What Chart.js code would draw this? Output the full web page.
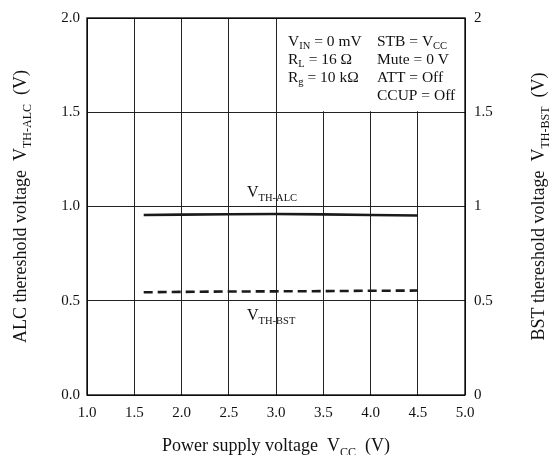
<!DOCTYPE html>
<html>
<head>
<meta charset="utf-8">
<script src="https://cdn.jsdelivr.net/npm/chart.js@4"></script>
<style>
html,body{margin:0;padding:0;background:#fff;}
#wrap{width:552px;height:455px;}
</style>
</head>
<body>
<div id="wrap"><canvas id="c" width="552" height="455"></canvas></div>
<script>
// ---- data ----
const vcc = [1.6, 2.0, 2.5, 3.0, 3.5, 4.0, 4.5];
const vthAlc = [0.955, 0.957, 0.959, 0.960, 0.958, 0.955, 0.952];
const vthBst = [0.545, 0.547, 0.549, 0.550, 0.551, 0.553, 0.554];
const xTicks = [1.0, 1.5, 2.0, 2.5, 3.0, 3.5, 4.0, 4.5, 5.0];
const yLeftTicks = ["0.0", "0.5", "1.0", "1.5", "2.0"];
const yRightTicks = ["0", "0.5", "1", "1.5", "2"];
const condLeft = [[["V",0],["IN",1],[" = 0 mV",0]], [["R",0],["L",1],[" = 16 Ω",0]], [["R",0],["g",1],[" = 10 kΩ",0]]];
const condRight = [[["STB = V",0],["CC",1]], [["Mute = 0 V",0]], [["ATT = Off",0]], [["CCUP = Off",0]]];
const xTitle = [["Power supply voltage  V",0],["CC",1],["  (V)",0]];
const yLeftTitle = [["ALC thereshold voltage  V",0],["TH-ALC",1],["  (V)",0]];
const yRightTitle = [["BST thereshold voltage  V",0],["TH-BST",1],["  (V)",0]];
const labelAlc = [["V",0],["TH-ALC",1]];
const labelBst = [["V",0],["TH-BST",1]];

const FONT = "'Liberation Serif', 'Times New Roman', serif";
Chart.defaults.font.family = FONT;
Chart.defaults.color = '#111';

function richWidth(ctx, parts, size, subSize){
  let w = 0;
  for (const [t, s] of parts){ ctx.font = (s ? subSize : size) + 'px ' + FONT; w += ctx.measureText(t).width; }
  return w;
}
function drawRich(ctx, parts, x, y, size, subSize, align){
  const w = richWidth(ctx, parts, size, subSize);
  let cx = align === 'center' ? x - w/2 : (align === 'right' ? x - w : x);
  ctx.textAlign = 'left'; ctx.textBaseline = 'alphabetic'; ctx.fillStyle = '#111';
  for (const [t, s] of parts){
    ctx.font = (s ? subSize : size) + 'px ' + FONT;
    ctx.fillText(t, cx, y + (s ? size*0.25 : 0));
    cx += ctx.measureText(t).width;
  }
}

const overlay = {
  id: 'overlay',
  beforeDatasetsDraw(chart){
    const {ctx, scales:{x, y}} = chart;
    const x0 = x.getPixelForValue(3.0), x1 = x.getPixelForValue(5.0);
    const y0 = y.getPixelForValue(2.0), y1 = y.getPixelForValue(1.5);
    ctx.save();
    ctx.fillStyle = '#fff';
    ctx.fillRect(x0 + 1, y0 + 1, x1 - x0 - 2, y1 - y0 - 2);
    ctx.restore();
  },
  afterDatasetsDraw(chart){
    const {ctx, chartArea:a, scales:{x, y}} = chart;
    ctx.save();
    ctx.strokeStyle = '#000'; ctx.lineWidth = 1.3;
    ctx.strokeRect(a.left, a.top, a.right - a.left, a.bottom - a.top);
    // conditions box text
    const bx = x.getPixelForValue(3.0);
    const rowY = y.getPixelForValue(2.0) + 27.5;
    condLeft.forEach((p, i) => drawRich(ctx, p, bx + 12, rowY + i*18, 15.5, 10.5, 'left'));
    condRight.forEach((p, i) => drawRich(ctx, p, bx + 101, rowY + i*18, 15.5, 10.5, 'left'));
    // curve labels
    drawRich(ctx, labelAlc, x.getPixelForValue(3.0) - 29, y.getPixelForValue(vthAlc[3]) - 17, 16, 10.5, 'left');
    drawRich(ctx, labelBst, x.getPixelForValue(3.0) - 29, y.getPixelForValue(vthBst[3]) + 29, 16, 10.5, 'left');
    // axis titles
    drawRich(ctx, xTitle, (a.left + a.right)/2, 451, 18, 12, 'center');
    ctx.save();
    ctx.translate(26, (a.top + a.bottom)/2);
    ctx.rotate(-Math.PI/2);
    drawRich(ctx, yLeftTitle, 0, 0, 18, 12, 'center');
    ctx.restore();
    ctx.save();
    ctx.translate(544, (a.top + a.bottom)/2);
    ctx.rotate(-Math.PI/2);
    drawRich(ctx, yRightTitle, 0, 0, 18, 12, 'center');
    ctx.restore();
    ctx.restore();
  }
};

const gridOpts = { color: '#222', lineWidth: 1, drawTicks: false };

new Chart(document.getElementById('c'), {
  type: 'line',
  data: {
    datasets: [
      { data: vcc.map((v, i) => ({x: v, y: vthAlc[i]})), borderColor: '#1a1a1a', borderWidth: 2.6, pointRadius: 0, tension: 0, fill: false, yAxisID: 'y' },
      { data: vcc.map((v, i) => ({x: v, y: vthBst[i]})), borderColor: '#1a1a1a', borderWidth: 2.6, borderDash: [9, 5], pointRadius: 0, tension: 0, fill: false, yAxisID: 'y' }
    ]
  },
  options: {
    responsive: false,
    animation: false,
    devicePixelRatio: 1,
    layout: { padding: { top: 17, left: 0, right: 0, bottom: 0 } },
    plugins: { legend: { display: false }, tooltip: { enabled: false } },
    scales: {
      x: {
        type: 'linear', min: 1, max: 5,
        afterBuildTicks(s){ s.ticks = xTicks.map(v => ({value: v})); },
        afterFit(s){ s.height = 60; },
        grid: gridOpts, border: { display: false },
        ticks: { padding: 9, font: { size: 15 }, color: '#111', callback: v => v.toFixed(1), maxRotation: 0 }
      },
      y: {
        type: 'linear', position: 'left', min: 0, max: 2,
        afterBuildTicks(s){ s.ticks = yLeftTicks.map(v => ({value: parseFloat(v)})); },
        afterFit(s){ s.width = 87; },
        grid: gridOpts, border: { display: false },
        ticks: { padding: 7, font: { size: 15 }, color: '#111', callback: (v, i) => yLeftTicks[i] }
      },
      y2: {
        type: 'linear', position: 'right', min: 0, max: 2,
        afterBuildTicks(s){ s.ticks = yRightTicks.map(v => ({value: parseFloat(v)})); },
        afterFit(s){ s.width = 87; },
        grid: { display: false, drawTicks: false }, border: { display: false },
        ticks: { padding: 9, font: { size: 15 }, color: '#111', callback: (v, i) => yRightTicks[i] }
      }
    }
  },
  plugins: [overlay]
});
</script>
</body>
</html>
